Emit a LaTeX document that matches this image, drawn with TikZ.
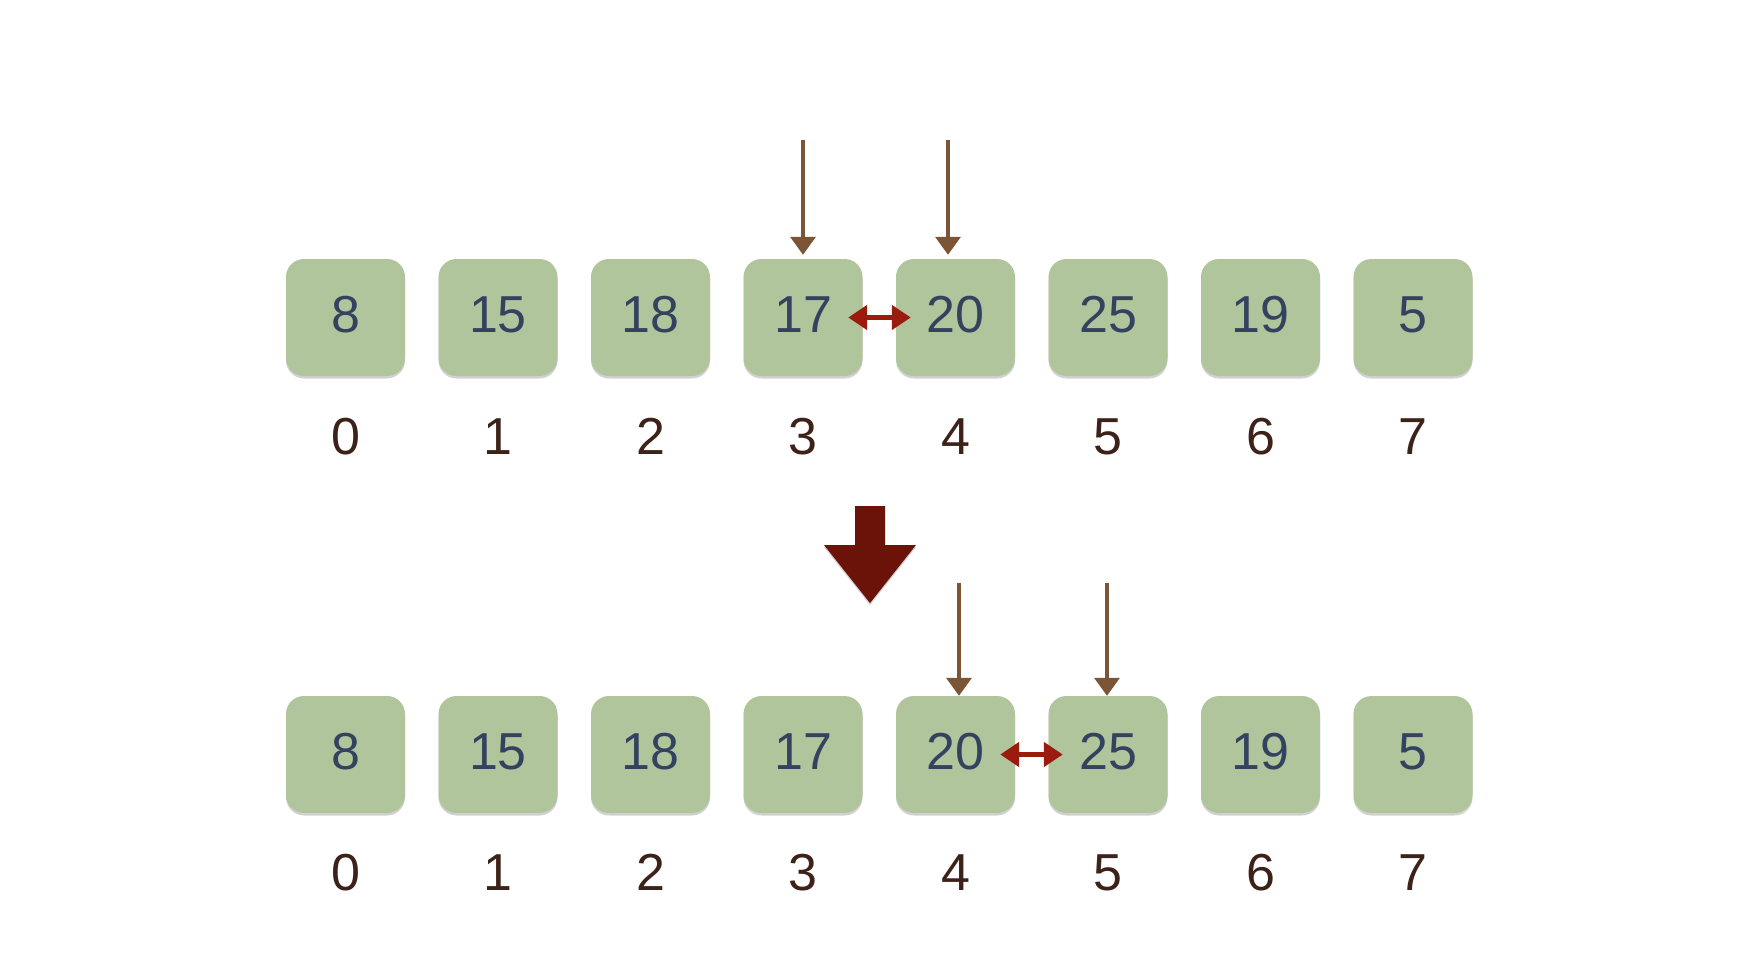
\documentclass[tikz,border=0pt]{standalone}
\usepackage{fontspec}
\setmainfont{Liberation Sans}
\usetikzlibrary{arrows.meta,shadows}
\definecolor{boxgreen}{RGB}{176,197,155}
\definecolor{numblue}{RGB}{52,66,95}
\definecolor{idxbrown}{RGB}{60,34,24}
\definecolor{ptrbrown}{RGB}{123,85,53}
\definecolor{swapred}{RGB}{155,28,15}
\definecolor{bigred}{RGB}{107,19,8}
\begin{document}
\begin{tikzpicture}[x=1pt,y=-1pt,
  cell/.style={fill=boxgreen, rounded corners=18pt, minimum width=119pt, minimum height=117pt,
    inner sep=0pt, text height=37pt, text depth=8pt, text=numblue, font=\fontsize{52}{52}\selectfont,
    drop shadow={shadow xshift=0pt, shadow yshift=-2.5pt, opacity=0.18, fill=black}},
  idx/.style={text=idxbrown, inner sep=0pt, font=\fontsize{52}{52}\selectfont},
  ptr/.style={draw=ptrbrown, line width=3.5pt, -{Triangle[width=25pt,length=18pt]}},
  swaparrow/.style={draw=swapred, line width=5pt, {Triangle[width=24pt,length=19pt]}-{Triangle[width=24pt,length=19pt]}}]
\useasboundingbox (0,0) rectangle (1738,966);
\fill[white] (0,0) rectangle (1738,966);
% top row
\foreach \v [count=\i from 0] in {8,15,18,17,20,25,19,5} {
  \node[cell] (a\i) at (345.5+152.5*\i, 317.5) {\v};
  \node[idx] (ai\i) at (345.5+152.5*\i, 436.5) {\i};
}
% bottom row
\foreach \v [count=\i from 0] in {8,15,18,17,20,25,19,5} {
  \node[cell] (b\i) at (345.5+152.5*\i, 754.5) {\v};
  \node[idx] (bi\i) at (345.5+152.5*\i, 872.5) {\i};
}
% top pointers
\coordinate (pa1) at (803,140);
\coordinate (pa2) at (948,140);
\draw[ptr] (pa1) -- ([yshift=4pt]pa1 |- a3.north);
\draw[ptr] (pa2) -- ([yshift=4pt]pa2 |- a4.north);
% bottom pointers
\coordinate (pb1) at (959,583);
\coordinate (pb2) at (1107,583);
\draw[ptr] (pb1) -- (pb1 |- b4.north);
\draw[ptr] (pb2) -- (pb2 |- b5.north);
% swap arrows
\draw[swaparrow] ([xshift=-14.5pt]a3.east) -- ([xshift=15pt]a4.west);
\draw[swaparrow] ([xshift=-15pt]b4.east) -- ([xshift=14.5pt]b5.west);
% big down arrow
\fill[bigred, drop shadow={shadow xshift=0pt, shadow yshift=-2pt, opacity=0.2, fill=black}]
  (855,506) -- (885,506) -- (885,545) -- (916,545) -- (870,603) -- (824,545) -- (855,545) -- cycle;
\end{tikzpicture}
\end{document}
